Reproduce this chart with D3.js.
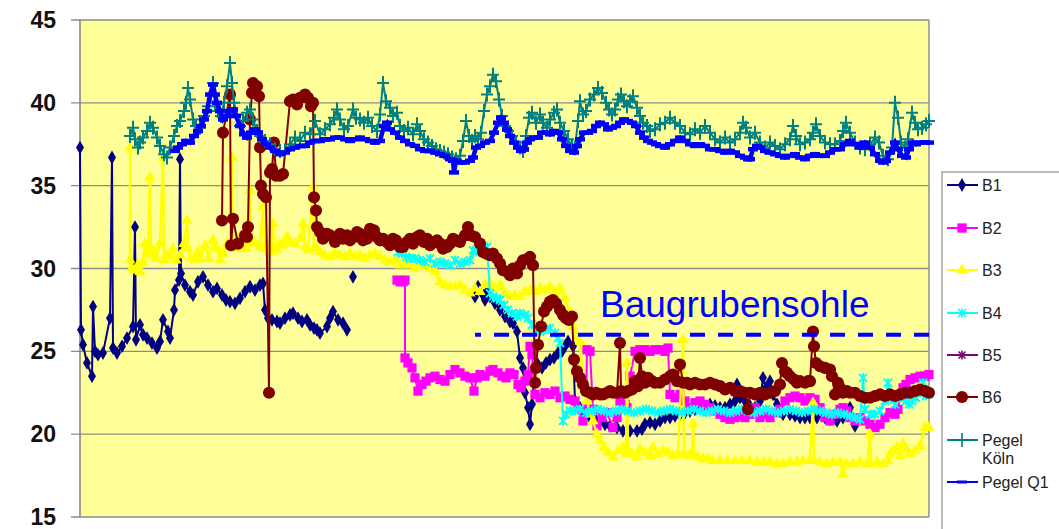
<!DOCTYPE html>
<html>
<head>
<meta charset="utf-8">
<script src="https://cdn.jsdelivr.net/npm/d3@7"></script>
<style>
  body { margin: 0; background: #fff; }
  text { font-family: "Liberation Sans", Arial, sans-serif; }
</style>
</head>
<body>
<script>
let width = 1059, height = 529;

// y axis ticks
const yTicks = [15, 20, 25, 30, 35, 40, 45];

// [day index, water level]  (null = gap)
const b1 = [[0,37.3],[1,26.3],[3,25.4],[7,24.3],[12,23.5],[13,27.7],[15,25],[18,24.8],[23,24.9],[30,27],[32,36.7],[33,25.2],[37,24.9],[42,25.3],[47,25.8],[53,26.5],[55,32.5],[56,25.7],[60,26.6],[63,26],[67,25.8],[72,25.5],[77,25.2],[80,25.6],[83,26.9],[88,26.2],[90,25.8],[94,27.5],[95,28.7],[99,29.3],[100,36.6],[101,29.7],[105,29],[110,28.6],[113,28.4],[118,29.2],[123,29.5],[128,29],[133,28.6],[137,28.8],[142,28.4],[146,28.1],[150,28],[155,27.9],[160,28.2],[165,28.6],[170,28.9],[175,28.7],[180,29],[183,29.1],[185,27.5],[188,27],[192,26.9],[197,26.8],[200,26.7],[205,27],[210,27.2],[213,27.3],[218,27],[222,26.8],[227,26.9],[230,26.6],[234,26.4],[237,26.3],[240,26.1],[247,26.5],[250,27],[253,27.4],[258,26.9],[263,26.7],[267,26.3],[268,null],[273,29.5],[274,null],[395,28.3],[398,28.9],[402,28.5],[405,28.1],[407,28.6],[410,28.3],[415,27.9],[420,27.5],[425,27.1],[430,26.8],[433,26.7],[437,26.2],[440,24.6],[443,24],[445,22.5],[448,21.6],[450,20.6],[452,21.8],[455,24],[458,24.2],[462,24],[466,24.3],[470,24.5],[474,24.6],[478,24.9],[482,25],[485,25.3],[488,25.6],[493,25.3],[495,22],[500,21.6],[505,21.2],[510,21],[515,20.9],[520,20.8],[525,20.6],[530,20.5],[537,20.4],[543,20.2],[550,20.2],[557,20.2],[562,20.3],[565,20.6],[570,20.7],[575,20.6],[580,20.8],[585,21],[590,21],[595,21.1],[600,21.2],[605,21.3],[610,21.4],[615,21.5],[620,21.6],[625,21.5],[630,21.8],[635,21.7],[640,21.6],[645,21.6],[650,21.8],[655,22],[657,23],[660,22.2],[665,22],[670,21.7],[675,21.6],[680,22],[683,23.4],[686,22.8],[690,23.2],[693,22.4],[697,21.8],[700,21.4],[703,21.2],[710,21.2],[715,21.1],[720,21],[725,21],[730,21],[737,21],[745,21],[750,20.9],[757,20.8],[763,21],[770,21.6],[775,20.5]];

const b2 = [[317,29.3],[320,29.2],[323,29.2],[325,29.3],[325,24.6],[328,24.3],[332,24],[335,23.4],[338,22.6],[342,23],[346,23.2],[350,23.4],[355,23.5],[360,23.3],[365,23.2],[370,23.6],[375,23.9],[380,23.7],[385,23.5],[390,23.4],[394,22.6],[397,23.4],[400,23.6],[405,23.5],[410,23.8],[413,23.9],[418,23.7],[422,23.5],[426,23.4],[430,23.7],[434,23.6],[438,23],[441,22.8],[445,23.2],[448,23.6],[450,25.3],[452,24.8],[455,22.4],[460,22.2],[465,22.5],[470,22.4],[475,22.6],[480,22.2],[485,22.3],[490,22.1],[495,22],[498,21.5],[503,20.8],[506,21.5],[507,25.1],[510,25],[513,21.5],[517,20.5],[522,21],[527,21.3],[533,20.4],[537,21],[540,22],[545,21.8],[547,21.6],[550,23.5],[555,25],[560,25.1],[565,25.1],[570,25],[575,25.1],[580,25.1],[585,25],[588,25.2],[590,22.4],[595,22.2],[600,22.4],[605,22],[610,21.6],[615,21.9],[620,22],[625,21.8],[630,21.6],[635,21.4],[640,21.2],[645,21],[650,20.9],[655,21],[660,21.1],[665,21],[670,21.2],[675,21.6],[680,21],[685,21.2],[690,21],[695,21.3],[700,21.5],[705,22],[710,22.2],[715,22.3],[720,22.2],[725,22],[730,22.2],[735,22.1],[740,21.6],[745,21],[750,20.8],[755,21.2],[760,21.5],[763,21.6],[767,21.4],[770,21],[775,20.8],[780,21],[785,20.8],[790,20.6],[795,20.4],[800,20.6],[805,21],[810,21.3],[815,21.2],[818,21.5],[820,22.3],[823,22.8],[826,23],[830,23.3],[835,23.4],[840,23.5],[845,23.5],[849,23.6]];

const b3 = [[50,37.3],[50,30.5],[52,30],[55,29.9],[58,30.2],[60,29.8],[63,30.4],[65,31.5],[68,31],[70,35.5],[71,30.8],[73,31.1],[76,30.6],[80,31.5],[83,36.7],[84,30.5],[86,30.8],[90,30.7],[93,31.2],[96,30.5],[100,30.8],[104,31.5],[107,32.9],[108,31.2],[111,30.6],[115,30.5],[118,31],[120,30.6],[125,31.4],[129,30.6],[133,31.7],[137,31.2],[140,30.5],[143,30.9],[147,31.5],[150,31.3],[152,36.7],[153,31.5],[156,31.2],[160,31.9],[163,31.5],[166,31.2],[170,34.7],[171,31.5],[175,31.6],[180,31.3],[183,33.7],[184,31.2],[187,31.5],[190,31],[193,32.7],[194,31.3],[197,31.1],[200,31.5],[203,31.4],[207,31.9],[210,31.6],[215,31.5],[220,31.8],[223,32.7],[225,31.3],[228,31.1],[233,34.9],[234,31.2],[237,31.2],[240,31],[245,30.8],[250,30.7],[255,30.9],[260,30.8],[265,30.7],[270,30.9],[275,30.7],[280,30.8],[285,30.6],[290,30.8],[295,30.9],[300,30.7],[305,30.5],[310,30.4],[315,30.5],[320,30.2],[325,30.3],[330,30.2],[335,30],[340,30.1],[345,30.2],[350,30],[355,29.8],[360,29.2],[365,29],[370,28.9],[375,28.9],[380,29],[385,28.7],[390,28.5],[395,28.8],[400,28.6],[405,29],[410,29.1],[415,28.8],[420,29],[425,28.5],[430,28.3],[435,28.4],[440,28.3],[445,28.6],[450,28.7],[455,28.6],[460,28.8],[465,28.7],[470,28.9],[475,28.6],[480,28.8],[485,28.2],[490,27.3],[493,26.5],[497,25.9],[500,25.6],[503,23],[507,22],[510,21.2],[513,20.8],[517,20],[520,19.6],[524,19.2],[528,18.9],[533,18.6],[538,19],[543,19.2],[546,18.8],[547,24.3],[548,19],[552,18.8],[557,18.6],[560,19.1],[565,18.9],[570,18.7],[573,19.2],[578,18.8],[583,19],[588,18.9],[593,18.7],[598,18.8],[603,25.7],[604,18.8],[608,18.7],[612,18.9],[613,20.6],[614,18.7],[618,18.6],[623,18.5],[628,18.5],[633,18.4],[640,18.4],[647,18.4],[655,18.4],[662,18.4],[670,18.4],[677,18.3],[684,18.3],[690,18.3],[697,18.2],[703,18.2],[710,18.3],[717,18.3],[723,18.4],[730,18.4],[733,21.9],[734,18.4],[740,18.3],[747,18.2],[753,18.3],[760,18.3],[763,17.6],[766,18.2],[773,18.2],[780,18.3],[787,18.2],[790,20],[791,18.2],[797,18.3],[803,18.2],[808,18.4],[810,18.8],[813,19],[817,19.2],[820,18.7],[823,19.4],[826,19.1],[830,18.8],[835,19],[840,19.3],[845,20.4],[849,20.4]];

const b4 = [[315,31.5],[318,31],[322,30.9],[326,30.7],[330,30.6],[335,30.6],[340,30.5],[345,30.4],[350,30.6],[355,30.3],[360,30.4],[365,30.3],[370,30.2],[375,30.5],[380,30.3],[385,30.4],[390,30.5],[393,31.1],[396,31],[400,31.2],[404,31.3],[407,31.3],[410,28.5],[413,28.3],[417,28.2],[420,28.1],[424,27.8],[428,27.5],[432,27.3],[437,27.1],[440,27.3],[445,27.2],[448,27],[452,26.6],[456,26.3],[460,26.2],[465,26.3],[470,26.4],[475,26.1],[478,25.8],[480,25.5],[483,20.8],[486,21.2],[490,21.4],[495,21.4],[500,21.5],[506,21.3],[512,21.4],[518,21.5],[524,21.4],[530,21.3],[536,21.4],[542,21.5],[548,21.4],[554,21.3],[560,21.4],[566,21.5],[572,21.4],[578,21.3],[584,21.4],[590,21.5],[596,21.4],[602,21.3],[608,21.4],[614,21.5],[620,21.4],[626,21.3],[632,21.4],[638,21.5],[644,21.4],[650,21.3],[656,21.4],[662,21.5],[668,21.4],[674,21.3],[680,21.4],[686,21.5],[692,21.4],[698,21.3],[704,21.4],[710,21.5],[716,21.4],[722,21.3],[728,21.4],[734,21.5],[740,21.4],[746,21.3],[752,21.2],[758,21.3],[764,21.2],[770,21.1],[775,21],[780,20.9],[783,23.4],[785,21.5],[790,21.2],[795,21.2],[800,21.4],[805,22],[808,23.1],[811,22.1],[815,21.8],[818,22.2],[820,22.2],[823,22.3],[826,22],[829,21.8],[832,22],[836,22.2],[840,22.5],[843,23.1],[846,22.3],[849,22.4]];

const b5 = [];

const b6 = [[142,32.9],[143,38.2],[150,40.5],[151,31.4],[153,33],[158,31.5],[165,32],[167,31.9],[168,32.5],[170,39],[172,40.6],[173,41.2],[175,40.8],[177,41],[179,40.4],[180,37.3],[181,35],[183,34.5],[186,34.3],[189,22.5],[190,35.8],[192,36],[194,37.6],[196,35.6],[200,35.6],[203,35.7],[210,40.1],[213,40.2],[217,39.9],[220,40.3],[225,40.5],[228,40.3],[231,39.8],[233,40],[234,34.3],[236,33.5],[237,32.5],[240,32.2],[243,31.8],[247,32.1],[250,32],[255,31.6],[260,32.1],[263,31.8],[267,32],[270,31.7],[274,31.9],[277,32.2],[280,32.1],[283,31.7],[287,31.8],[290,32.4],[294,32.3],[297,31.9],[300,31.7],[303,31.8],[307,31.6],[310,31.4],[313,31.8],[316,31.7],[320,31.3],[323,31.3],[327,31.6],[330,31.8],[333,31.5],[337,31.9],[340,32],[344,31.6],[347,31.8],[350,31.4],[354,31.6],[357,31.7],[360,31.5],[363,31.2],[367,31.3],[370,31.5],[373,31.8],[376,31.7],[380,31.6],[385,32],[388,32.5],[391,32],[395,31.9],[400,31.5],[403,31],[406,30.9],[410,30.8],[413,30.9],[417,30.6],[420,30.3],[423,29.9],[427,29.8],[430,29.6],[433,30],[437,29.7],[440,30.2],[443,30.5],[448,30.6],[450,30.7],[453,30.2],[455,23.1],[456,24],[458,25.4],[461,26.5],[464,27.4],[467,27.7],[470,28],[473,28.1],[476,27.9],[480,27.5],[483,27.2],[486,27],[489,26.9],[492,27.1],[494,24.5],[497,23.8],[500,23.4],[503,23],[506,22.6],[510,22.5],[513,22.4],[516,22.5],[520,22.4],[523,22.4],[527,22.5],[530,22.6],[533,22.5],[537,22.5],[540,25.5],[541,22.6],[545,22.5],[548,22.6],[552,22.7],[555,23.2],[558,22.9],[560,24.6],[562,23.5],[565,23.1],[568,23.4],[572,23.2],[575,23.1],[580,23.1],[585,23.3],[590,23.5],[593,23.6],[597,23.2],[600,24.2],[603,23.1],[607,23.1],[610,23],[615,23.1],[620,23],[625,23],[630,23.1],[635,23],[640,22.9],[645,22.7],[650,22.8],[655,22.6],[660,22.6],[665,22.5],[668,21.5],[670,22.5],[675,22.4],[680,22.5],[685,22.4],[690,22.5],[695,22.6],[700,23],[702,24.3],[705,23.8],[707,23.7],[710,23.5],[714,23.3],[717,23.1],[720,23.2],[725,23.1],[728,23.2],[730,23.2],[733,26.2],[734,25.3],[736,24.3],[740,24.1],[745,24],[750,23.9],[752,23.5],[755,22.4],[758,23.1],[760,22.8],[763,22.5],[767,22.6],[770,22.5],[775,22.5],[780,22.3],[785,22.2],[790,22.2],[795,22.3],[800,22.4],[805,22.3],[810,22.4],[815,22.3],[820,22.4],[825,22.5],[830,22.5],[835,22.6],[840,22.7],[845,22.6],[849,22.5]];

const pegelKoeln = [[50,38],[53,38.5],[55,37.8],[58,37.3],[60,37.6],[63,37.9],[67,38.3],[70,38.8],[73,38.5],[77,37.9],[80,37.4],[84,36.9],[87,36.7],[90,37.3],[94,38],[97,38.6],[100,38.9],[104,39.5],[106,40],[108,40.9],[110,40.2],[113,39],[116,38.6],[120,38.5],[124,39.2],[128,39.8],[131,40.5],[133,41.2],[135,40],[138,39.5],[141,39.2],[144,40],[147,41],[150,42.4],[152,41.2],[154,40],[157,39.3],[160,38.6],[163,38.9],[167,39.4],[170,39.6],[173,39],[177,38.3],[180,38],[185,37.7],[190,37.5],[195,37.2],[200,37.1],[205,37.1],[210,37.5],[215,37.9],[220,37.7],[225,38.2],[230,38.1],[235,38.9],[240,38.1],[245,38.4],[250,38.7],[254,39.1],[257,39.6],[260,39],[264,38.4],[268,38.6],[273,39.6],[276,39.1],[280,39],[284,38.8],[288,39.1],[292,38.6],[297,38.3],[300,39.3],[303,41.2],[306,40.1],[310,39.7],[313,39.2],[317,39.4],[320,38.6],[324,38.3],[328,38.5],[333,38.1],[337,38.7],[340,38.3],[344,37.8],[348,37.6],[352,37.4],[356,37.2],[360,37.1],[364,37],[368,36.9],[372,36.7],[376,36.6],[380,36.8],[383,37.7],[386,38.9],[389,38],[392,37.7],[395,38],[398,37.8],[401,38.2],[404,39.5],[407,40.5],[410,41],[413,41.7],[416,41.3],[419,40.2],[422,39.2],[425,38.6],[428,38.3],[432,38],[436,37.6],[440,37.3],[443,37.1],[446,38],[449,39.1],[452,39.4],[456,38.8],[460,39.3],[463,38.8],[467,38.5],[470,39],[474,39.4],[477,39.6],[480,38.8],[484,38.3],[488,37.8],[492,37.4],[495,37.3],[498,38.9],[500,40.1],[503,39.3],[506,39.5],[510,40.2],[514,40.5],[518,40.9],[522,40.6],[526,40],[529,39.6],[532,39.3],[535,39.6],[538,40.2],[541,40.5],[544,40.1],[547,39.8],[550,40.1],[553,40.4],[557,39.7],[560,39.2],[563,38.8],[567,38.6],[570,38.3],[575,38.4],[580,38.7],[585,38.8],[590,39.1],[595,38.8],[600,38.6],[605,38.2],[610,38.1],[615,38.4],[620,38.2],[625,38.6],[630,38.2],[635,37.8],[640,37.6],[645,37.9],[650,37.6],[655,37.8],[660,38.2],[663,38.8],[666,38.5],[670,37.9],[675,38.2],[680,37.6],[685,37.3],[690,37.6],[695,37.4],[700,37.2],[705,37.5],[710,37.8],[713,38.6],[716,38],[720,37.5],[725,37.6],[730,37.8],[733,38.2],[736,38.7],[740,38],[745,37.6],[750,37.5],[755,37.5],[760,37.7],[763,38.3],[766,38.8],[770,38.2],[775,37.6],[780,37.3],[785,37.2],[790,37.5],[795,37.9],[799,37.6],[803,36.8],[808,36.6],[812,37.3],[815,40],[818,39.1],[821,37.6],[825,37.3],[828,37.8],[832,39.4],[835,38.8],[838,38.4],[842,38.5],[846,38.7],[849,38.9]];

const pegelQ1 = [[95,37.1],[98,37.3],[102,37.5],[106,37.7],[110,37.6],[114,38],[118,38.3],[121,38.6],[124,39],[127,39.5],[130,40.5],[133,41.1],[135,40.5],[137,40],[140,39.5],[143,39],[146,39.2],[150,39.5],[153,39.6],[156,39.2],[160,38.6],[164,38.1],[167,37.9],[171,38.2],[175,38.4],[178,38.2],[182,37.8],[186,37.5],[190,37.3],[195,37.1],[200,36.9],[205,37],[210,37.2],[215,37.3],[220,37.4],[225,37.4],[230,37.6],[235,37.7],[240,37.7],[245,37.8],[250,37.8],[255,37.9],[260,37.9],[265,37.8],[270,37.7],[275,37.8],[280,37.9],[285,37.8],[290,37.7],[295,37.6],[300,37.7],[304,38.6],[307,38.8],[310,38.4],[315,38.2],[320,37.9],[325,37.7],[330,37.5],[335,37.4],[340,37.2],[345,37.1],[350,37.1],[355,37],[360,36.9],[365,36.8],[370,36.6],[373,36.5],[374,35.8],[376,36.5],[380,36.4],[385,36.4],[390,36.5],[393,36.7],[396,37.3],[400,37.4],[405,37.6],[410,37.7],[414,38.2],[418,38.8],[421,39.1],[424,38.8],[427,38.4],[430,38],[434,37.6],[438,37.3],[441,37.1],[444,37.2],[447,37.6],[450,37.8],[454,37.9],[458,37.9],[462,38.2],[466,38.2],[470,38.1],[474,38.3],[478,38.2],[482,37.8],[486,37.4],[490,37.1],[494,37],[497,37.4],[500,37.8],[504,38.2],[508,38.2],[512,38.3],[516,38.6],[520,38.8],[524,38.7],[528,38.4],[532,38.5],[536,38.6],[540,38.8],[544,39],[548,38.9],[552,38.8],[556,38.6],[560,38.2],[564,37.9],[568,37.7],[572,37.6],[576,37.5],[580,37.4],[585,37.3],[590,37.5],[595,37.7],[600,37.9],[605,37.7],[610,37.5],[615,37.4],[620,37.5],[625,37.4],[630,37.2],[635,37.2],[640,37.1],[645,37],[650,37.1],[655,37],[660,36.8],[665,36.7],[668,36.6],[670,36.6],[673,37.2],[677,37.4],[680,37.3],[685,37.1],[690,37],[695,36.9],[700,36.8],[705,36.7],[710,36.8],[715,36.9],[720,36.7],[725,36.6],[730,36.8],[735,36.9],[740,36.8],[745,36.8],[750,37],[755,37.2],[760,37.2],[765,37.5],[770,37.7],[775,37.5],[780,37.3],[785,37.6],[790,37.3],[795,36.9],[800,36.5],[803,36.4],[806,36.5],[810,37],[815,37.6],[818,37.2],[822,36.8],[826,36.7],[829,37.2],[833,37.6],[836,37.5],[840,37.6],[845,37.6],[849,37.6]];

const seriesNames = ["B1", "B2", "B3", "B4", "B5", "B6", "Pegel Köln", "Pegel Q1"];
const seriesData = [b1, b2, b3, b4, b5, b6, pegelKoeln, pegelQ1];
const seriesColors = ["#000080", "#ff00ff", "#ffff00", "#00ffff", "#800080", "#800000", "#008080", "#0000ff"];
const seriesMarkers = ["diamond", "square", "triangle", "x", "star", "circle", "plus", "dash"];

const sohleLevel = 26;
const sohleLabel = "Baugrubensohle";

const svg = d3.create("svg")
    .attr("width", width)
    .attr("height", height);

document.body.appendChild(svg.node());

const x = d3.scaleLinear().domain([0, 849]).range([80, 929]);
const y = d3.scaleLinear().domain([15, 45]).range([517, 20]);

// plot area
svg.append("rect")
    .attr("x", x(0)).attr("y", y(45))
    .attr("width", x(849) - x(0)).attr("height", y(15) - y(45))
    .attr("fill", "#ffff99");

// grid
svg.append("g")
    .selectAll("line")
    .data(yTicks)
    .join("line")
    .attr("x1", 71).attr("x2", x(849))
    .attr("y1", d => y(d)).attr("y2", d => y(d))
    .attr("stroke", "#8c8c8c")
    .attr("stroke-width", 1.3);

svg.append("line")
    .attr("x1", x(0)).attr("x2", x(0))
    .attr("y1", y(45)).attr("y2", y(15))
    .attr("stroke", "#808080").attr("stroke-width", 1.5);
svg.append("line")
    .attr("x1", x(849)).attr("x2", x(849))
    .attr("y1", y(45)).attr("y2", y(15))
    .attr("stroke", "#909090").attr("stroke-width", 1.5);

svg.append("g")
    .selectAll("text")
    .data(yTicks)
    .join("text")
    .attr("x", 56)
    .attr("y", d => y(d) + 8)
    .attr("text-anchor", "end")
    .attr("font-size", 23)
    .attr("font-weight", "bold")
    .attr("fill", "#111")
    .text(d => d);

function markerPath(type) {
    if (type == "diamond") return d3.symbol().type(d3.symbolDiamond).size(55)();
    if (type == "square") return d3.symbol().type(d3.symbolSquare).size(85)();
    if (type == "triangle") return d3.symbol().type(d3.symbolTriangle).size(55)();
    if (type == "circle") return d3.symbol().type(d3.symbolCircle).size(115)();
    if (type == "x") return "M-4,-4L4,4M-4,4L4,-4M0,-4.5V4.5";
    if (type == "star") return "M-3.5,-3.5L3.5,3.5M-3.5,3.5L3.5,-3.5M0,-4.5V4.5";
    if (type == "plus") return "M-6,0H6M0,-7V7";
    if (type == "dash") return "M-5,0H5";
}
const strokeMarkers = ["x", "star", "plus", "dash"];

const line = d3.line()
    .defined(d => d[1] != null)
    .x(d => x(d[0]))
    .y(d => y(d[1]));

seriesData.forEach((data, i) => {
    const color = seriesColors[i], type = seriesMarkers[i];
    const g = svg.append("g");
    g.append("path")
        .attr("d", line(data))
        .attr("fill", "none")
        .attr("stroke", color)
        .attr("stroke-width", type == "dash" ? 4.5 : (type == "triangle" ? 2.5 : 2));
    g.selectAll("path.m")
        .data(data.filter(d => d[1] != null))
        .join("path")
        .attr("class", "m")
        .attr("transform", d => `translate(${x(d[0])},${y(d[1])})`)
        .attr("d", markerPath(type))
        .attr("fill", strokeMarkers.includes(type) ? "none" : color)
        .attr("stroke", strokeMarkers.includes(type) ? color : "none")
        .attr("stroke-width", type == "dash" ? 4.5 : 2);
});

// Baugrubensohle
svg.append("line")
    .attr("x1", 475).attr("x2", x(849))
    .attr("y1", y(sohleLevel)).attr("y2", y(sohleLevel))
    .attr("stroke", "#0000ff")
    .attr("stroke-width", 4)
    .attr("stroke-dasharray", "15,13")
    .attr("stroke-dashoffset", 9);
svg.append("text")
    .attr("x", 600).attr("y", 317)
    .attr("font-size", 37)
    .attr("fill", "#0000ff")
    .text(sohleLabel);

// legend
const legend = svg.append("g");
legend.append("rect")
    .attr("x", 942).attr("y", 172)
    .attr("width", 140).attr("height", 400)
    .attr("fill", "#fff")
    .attr("stroke", "#999")
    .attr("stroke-width", 1.3);

const legendY = [185, 228, 270, 313, 355, 397, 440, 482];
seriesNames.forEach((name, i) => {
    const ly = legendY[i], color = seriesColors[i], type = seriesMarkers[i];
    legend.append("line")
        .attr("x1", 947).attr("x2", 978)
        .attr("y1", ly).attr("y2", ly)
        .attr("stroke", color)
        .attr("stroke-width", 2);
    legend.append("path")
        .attr("transform", `translate(962,${ly})`)
        .attr("d", markerPath(type))
        .attr("fill", strokeMarkers.includes(type) ? "none" : color)
        .attr("stroke", strokeMarkers.includes(type) ? color : "none")
        .attr("stroke-width", type == "dash" ? 3 : 1.6);
    const t = legend.append("text")
        .attr("x", 982).attr("y", ly + 6)
        .attr("font-size", 16)
        .attr("fill", "#222");
    if (name == "Pegel Köln") {
        t.append("tspan").attr("x", 982).text("Pegel");
        t.append("tspan").attr("x", 982).attr("dy", 18).text("Köln");
    } else {
        t.text(name);
    }
});
</script>
</body>
</html>
